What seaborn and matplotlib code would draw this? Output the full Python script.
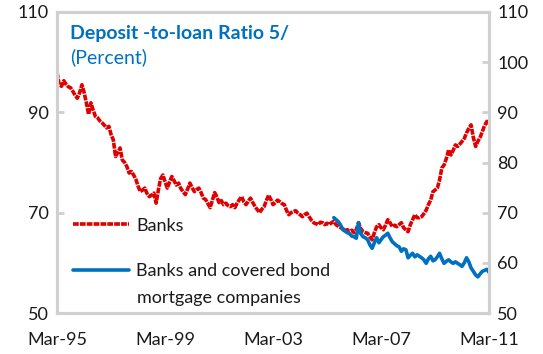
import matplotlib
matplotlib.use('Agg')
import matplotlib.pyplot as plt
import matplotlib.dates as mdates
import seaborn as sns
import pandas as pd

# monthly deposit-to-loan ratio, Mar-95 .. Mar-11 (percent)
banks = [
    98.0, 95.5, 95.2, 96.3, 95.6, 95.1, 94.9, 94.2, 93.4, 92.8, 93.9, 95.5,
    94.0, 91.9, 89.6, 91.9, 90.5, 89.2, 88.9, 88.3, 87.9, 87.4, 86.9, 87.2,
    85.6, 84.5, 81.2, 82.0, 82.9, 80.5, 80.0, 79.2, 77.9, 78.2, 77.5, 76.6,
    75.3, 74.2, 74.5, 74.9, 73.8, 73.2, 73.5, 73.9, 71.9, 74.5, 76.8, 77.5,
    76.2, 74.9, 76.1, 77.2, 76.4, 75.5, 75.9, 74.8, 74.2, 73.6, 74.7, 75.9,
    75.0, 74.2, 74.6, 74.9, 74.0, 72.9, 72.6, 71.8, 71.0, 72.5, 74.0, 73.1,
    72.0, 72.4, 71.6, 71.9, 71.4, 71.2, 71.6, 71.0, 71.9, 72.6, 73.2, 72.1,
    71.6, 72.3, 72.9, 72.0, 71.2, 70.6, 70.0, 70.7, 71.2, 72.4, 73.5, 72.6,
    71.6, 72.0, 72.5, 72.2, 71.8, 71.6, 70.4, 69.6, 70.0, 70.2, 70.4, 69.9,
    69.6, 69.2, 69.6, 69.9, 69.2, 68.5, 68.0, 67.8, 67.6, 68.1, 68.0, 67.6,
    67.9, 67.6, 68.0, 68.3, 67.6, 67.3, 67.0, 66.8, 66.4, 66.6, 66.2, 66.5,
    66.0, 66.6, 68.0, 66.8, 66.2, 66.0, 65.9, 65.2, 64.6, 66.0, 67.2, 67.6,
    67.0, 66.6, 67.5, 68.6, 68.0, 67.2, 67.5, 67.2, 67.6, 68.0, 67.0, 66.6,
    66.2, 67.6, 68.6, 69.6, 69.0, 69.0, 69.2, 69.8, 70.5, 71.6, 72.5, 74.2,
    74.5, 74.9, 76.5, 78.9, 79.5, 80.8, 82.5, 81.5, 82.4, 83.5, 83.2, 83.7,
    84.2, 84.8, 85.9, 86.8, 87.5, 85.0, 83.2, 84.2, 85.0, 86.2, 87.4, 88.2,
    87.7,
]
# banks and covered bond mortgage companies, Jun-05 .. Mar-11
banks_cb = [
    69.0, 68.6, 68.2, 67.5, 66.6, 66.3, 66.0, 65.8, 65.3, 65.2, 64.9, 68.0,
    65.8, 65.2, 65.0, 64.6, 63.6, 62.9, 64.0, 65.0, 64.0, 64.6, 65.2, 65.5,
    65.9, 65.0, 64.2, 63.8, 63.4, 63.2, 62.3, 62.8, 62.6, 61.0, 61.5, 61.9,
    61.2, 61.6, 61.3, 61.0, 60.6, 59.9, 60.8, 61.3, 60.4, 60.6, 61.2, 61.9,
    60.8, 59.9, 60.3, 60.6, 60.2, 59.9, 60.2, 59.9, 59.6, 59.3, 60.0, 61.0,
    60.2, 59.0, 58.3, 57.6, 57.2, 57.8, 58.3, 58.5, 58.7, 58.1,
]
dates = pd.date_range('1995-03-01', periods=len(banks), freq='MS')
dates_cb = dates[-len(banks_cb):]
tick_dates = pd.to_datetime(['1995-03-01', '1999-03-01', '2003-03-01', '2007-03-01', '2011-03-01'])

red = '#E00000'
blue = '#0070C0'
grey = '#D0D0D0'
txt = '#1a1a1a'

sns.set_style('white')
plt.rcParams['font.family'] = ['Lato', 'DejaVu Sans']

fig, ax = plt.subplots(figsize=(5.43, 3.54), dpi=100)
fig.subplots_adjust(left=57/543, right=489/543, bottom=1-313/354, top=1-12/354)

df1 = pd.DataFrame({'date': dates, 'val': banks})
df2 = pd.DataFrame({'date': dates_cb, 'val': banks_cb})
sns.lineplot(data=df1, x='date', y='val', ax=ax, color=red, lw=2.6,
             label='Banks', linestyle=(0, (1.6, 0.3)))
sns.lineplot(data=df2, x='date', y='val', ax=ax, color=blue, lw=2.6,
             label='Banks and covered bond')

ax.set_xlim(dates[0], dates[-1])
ax.set_ylim(50, 110)
ax.set_yticks([50, 70, 90, 110])
ax.set_xticks(tick_dates)
ax.xaxis.set_major_formatter(mdates.DateFormatter('%b-%y'))
ax.set_xlabel('')
ax.set_ylabel('')

ax2 = ax.twinx()
ax2.set_ylim(50, 110)
ax2.set_yticks(range(50, 111, 10))

for a in (ax, ax2):
    for s in a.spines.values():
        s.set_color(grey)
        s.set_linewidth(2.2)
    a.tick_params(direction='in', length=5, width=2, color=grey,
                  labelsize=13, labelcolor=txt, pad=6)
ax.tick_params(axis='x', pad=14)

ax.text(0.03, 0.93, 'Deposit -to-loan Ratio 5/', transform=ax.transAxes,
        color=blue, fontsize=14, fontweight='bold', va='center')
ax.text(0.03, 0.85, '(Percent)', transform=ax.transAxes,
        color=blue, fontsize=14, va='center')

leg = ax.legend(loc='center left', bbox_to_anchor=(0.0, 0.214), frameon=False,
                fontsize=13, handlelength=3.1, handletextpad=0.4,
                labelspacing=1.65, labelcolor=txt)
ax.text(0.185, 0.05, 'mortgage companies', transform=ax.transAxes,
        fontsize=13, color=txt, va='center')

fig.savefig('out.png', dpi=100)
